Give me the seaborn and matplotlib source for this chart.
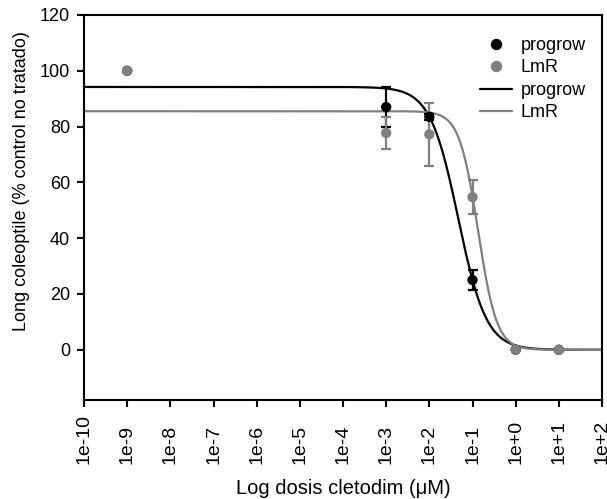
import numpy as np
import pandas as pd
import matplotlib
matplotlib.use("Agg")
import matplotlib.pyplot as plt
import seaborn as sns
from matplotlib.lines import Line2D

# %% data
dose = [1e-9, 1e-3, 1e-2, 1e-1, 1e0, 1e1]
progrow_mean = [100, 87.0, 83.5, 25.0, 0, 0]
progrow_err = [0, 7.3, 1.0, 3.5, 0, 0]
lmr_mean = [100, 77.7, 77.2, 54.7, 0, 0]
lmr_err = [0, 5.6, 11.3, 6.2, 0, 0]

# fitted dose-response (Hill) parameters: top, log10 IC50, slope
progrow_fit = (94.2, -1.331, 1.335)
lmr_fit = (85.5, -0.872, 2.0)

tick_labels = ['1e-10', '1e-9', '1e-8', '1e-7', '1e-6', '1e-5', '1e-4',
               '1e-3', '1e-2', '1e-1', '1e+0', '1e+1', '1e+2']

# %%
sns.set_style("ticks")
plt.rcParams['font.family'] = ['Liberation Sans', 'DejaVu Sans']
plt.rcParams.update({'text.color': 'black', 'axes.labelcolor': 'black',
                     'xtick.color': 'black', 'ytick.color': 'black'})

points = pd.DataFrame({
    'dose': dose * 2,
    'value': progrow_mean + lmr_mean,
    'err': progrow_err + lmr_err,
    'line': ['progrow'] * len(dose) + ['LmR'] * len(dose),
})

xs = np.logspace(-10, 2, 400)
curves = []
for name, (top, logic50, h) in [('progrow', progrow_fit), ('LmR', lmr_fit)]:
    curves.append(pd.DataFrame({'dose': xs,
                                'value': top / (1 + (xs / 10 ** logic50) ** h),
                                'line': name}))
curves = pd.concat(curves)

colors = {'progrow': 'black', 'LmR': '#808080'}

fig = plt.figure(figsize=(6.07, 4.99), dpi=100)
ax = fig.add_axes([0.1384, 0.1984, 0.8534, 0.7716])

sns.lineplot(data=curves, x='dose', y='value', hue='line', palette=colors,
             linewidth=1.6, legend=False, ax=ax, zorder=2)

for name in ['progrow', 'LmR']:
    d = points[points['line'] == name]
    ax.errorbar(d['dose'], d['value'], yerr=d['err'], fmt='none',
                ecolor=colors[name], elinewidth=1.6, capsize=3.6, capthick=1.6, zorder=3)
    sns.scatterplot(data=d, x='dose', y='value', color=colors[name], s=55,
                    edgecolor='none', legend=False, ax=ax, zorder=4)

ax.set_xscale('log')
ax.set_xlim(1e-10, 1e2)
ax.set_ylim(-18, 120)
ax.set_xticks([10.0 ** k for k in range(-10, 3)])
ax.set_xticklabels(tick_labels, rotation=90, fontsize=14)
ax.minorticks_off()
ax.set_yticks([0, 20, 40, 60, 80, 100, 120])
ax.tick_params(axis='y', labelsize=13, length=5, width=1.5, pad=5)
ax.tick_params(axis='x', length=5, width=1.5, pad=41)
plt.setp(ax.get_xticklabels(), va='bottom')
for s in ax.spines.values():
    s.set_linewidth(1.5)
    s.set_color('black')

ax.set_xlabel('Log dosis cletodim (\u03bcM)', fontsize=14.5)
ax.xaxis.set_label_coords(0.5, -(488 - 400) / 385)
ax.xaxis.label.set_va('center')
ax.set_ylabel('Long coleoptile (% control no tratado)', fontsize=13)
ax.yaxis.set_label_coords((21.7 - 84) / 518, (400 - 181.5) / 385)
ax.yaxis.label.set_va('center')

handles = [
    Line2D([], [], marker='o', linestyle='none', color='black', markersize=7.2),
    Line2D([], [], marker='o', linestyle='none', color='#808080', markersize=7.2),
    Line2D([], [], color='black', linewidth=1.6),
    Line2D([], [], color='#808080', linewidth=1.6),
]
ax.legend(handles, ['progrow', 'LmR', 'progrow', 'LmR'], loc='upper left',
          frameon=False, fontsize=13, handlelength=1.77, handletextpad=0.48,
          labelspacing=0.3, borderpad=0, borderaxespad=0,
          bbox_to_anchor=(480 / 607, 1 - 37 / 499), bbox_transform=fig.transFigure)

fig.savefig('out.png', dpi=100)
